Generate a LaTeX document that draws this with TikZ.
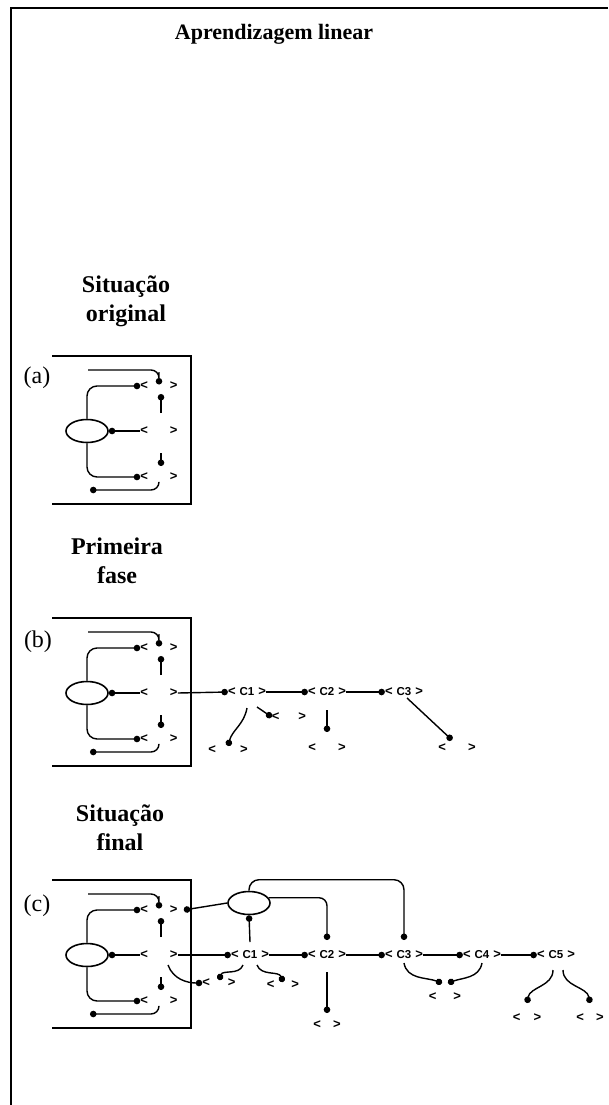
\documentclass[tikz,border=0pt]{standalone}
\usepackage{fontspec}
\setmainfont{Liberation Serif}
\newfontfamily\slotfont{Liberation Sans}
\usetikzlibrary{arrows.meta,shapes.geometric}

\newcommand\titlestyle{\fontsize{22}{29}\selectfont\bfseries}
\newcommand\headstyle{\fontsize{24}{29}\selectfont\bfseries}
\newcommand\tagstyle{\fontsize{24}{28}\selectfont}
\newcommand\slotstyle{\fontsize{11.5}{14}\selectfont\slotfont\bfseries}
\newcommand\lt{{\fontsize{13}{14}\selectfont<}}
\newcommand\gt{{\fontsize{13}{14}\selectfont>}}
\newcommand\slotbox[1]{\lt\hspace{#1pt}\gt}
\newcommand\chainbox[1]{\lt\hspace{4pt}C#1\hspace{4pt}\gt}

\tikzset{
  link/.style={line width=1.4pt},
  dot/.style={link, -{Circle[length=6.5pt]}},
  panel/.style={line width=1.6pt},
  organ/.style={draw, ellipse, line width=1.6pt, minimum width=42pt, minimum height=23pt, inner sep=0pt},
  slotnode/.style={inner sep=0pt, font=\slotstyle},
}

% one boxed panel: #1 = prefix of the names, #2 = y of the middle row
\newcommand\drawpanel[2]{
  \begin{scope}[shift={(0,#2)}]
    \draw[panel] (52,-75) -- (191,-75) -- (191,73) -- (52,73);
    \node[organ] (#1e) at (87,0) {};
    \node[slotnode] (#1r1) at (159,-45) {\slotbox{22}};
    \node[slotnode] (#1r2) at (159,0) {\slotbox{22}};
    \node[slotnode] (#1r3) at (159,46) {\slotbox{22}};
    \coordinate (#1in) at (88,-61);
    \coordinate (#1out) at (90,59);
    \draw[dot, rounded corners=8] (#1in) -| ([yshift=8]#1r1.center);
    \draw[dot, rounded corners=10] (#1e.north) |- (#1r1.west);
    \draw[dot] (#1r2.west) -- (#1e.east);
    \draw[dot, rounded corners=10] (#1e.south) |- (#1r3.west);
    \draw[dot] ([xshift=2,yshift=18]#1r2.center) -- ([xshift=2,yshift=-8]#1r1.center);
    \draw[dot] ([xshift=2,yshift=-22]#1r2.center) -- ([xshift=2,yshift=11]#1r3.center);
    \draw[dot, rounded corners=8] ([yshift=-6]#1r3.center) |- (#1out);
  \end{scope}
}

\begin{document}
\begin{tikzpicture}[x=1pt, y=-1pt]
  \useasboundingbox (0,0) rectangle (608,1105);
  \draw[line width=2.4pt] (11,1105) -- (11,8) -- (608,8);

  \node[font=\titlestyle] (title) at (274,34) {Aprendizagem linear};
  % anchor=base sits on the last line
  \node[font=\headstyle, align=center, anchor=base] (heada) at (126,321) {Situação\\original};
  \node[font=\headstyle, align=center, anchor=base] (headb) at (117,583) {Primeira\\fase};
  \node[font=\headstyle, align=center, anchor=base] (headc) at (120,850) {Situação\\final};
  \node[font=\tagstyle] (taga) at (37,378) {(a)};
  \node[font=\tagstyle] (tagb) at (38,642) {(b)};
  \node[font=\tagstyle] (tagc) at (37,906) {(c)};

  \drawpanel{a}{431}
  \drawpanel{b}{693}
  \drawpanel{c}{955}

  % first phase
  \node[slotnode] (bc1) at (247,692) {\chainbox{1}};
  \node[slotnode] (bc2) at (327,692) {\chainbox{2}};
  \node[slotnode] (bc3) at (404,692) {\chainbox{3}};
  \node[slotnode] (bu1) at (228,750) {\slotbox{24}};
  \node[slotnode] (bu2) at (289,717) {\slotbox{19}};
  \node[slotnode] (bu3) at (327,748) {\slotbox{22}};
  \node[slotnode] (bu4) at (457,748) {\slotbox{22}};
  \draw[dot] (br2.east) -- (bc1.west);
  \draw[dot] (bc1.east) -- (bc2.west);
  \draw[dot] (bc2.east) -- (bc3.west);
  \draw[dot] ([yshift=-16]bc1.center) to[out=-100,in=75] ([yshift=4]bu1.center);
  \draw[dot] ([xshift=10,yshift=-15]bc1.center) -- (bu2.west);
  \draw[dot] ([yshift=-18]bc2.center) -- ([yshift=16]bu3.center);
  \draw[dot] ([xshift=3,yshift=-6]bc3.center) -- ([xshift=-5,yshift=8]bu4.center);

  % final situation
  \node[organ] (ctop) at (249,903) {};
  \node[slotnode] (cc1) at (250,955) {\chainbox{1}};
  \node[slotnode] (cc2) at (327,955) {\chainbox{2}};
  \node[slotnode] (cc3) at (404,955) {\chainbox{3}};
  \node[slotnode] (cc4) at (482,955) {\chainbox{4}};
  \node[slotnode] (cc5) at (556,955) {\chainbox{5}};
  \node[slotnode] (cu1) at (219,983) {\slotbox{18}};
  \node[slotnode] (cu2) at (283,985) {\slotbox{17}};
  \node[slotnode] (cu3) at (327,1025) {\slotbox{12}};
  \node[slotnode] (cu4) at (445,997) {\slotbox{17}};
  \node[slotnode] (cu5) at (527,1018) {\slotbox{13}};
  \node[slotnode] (cu6) at (590,1018) {\slotbox{12}};
  \draw[dot] (ctop.west) -- ([xshift=6]cr1.east);
  \draw[dot] (cr2.east) -- (cc1.west);
  \draw[dot] (cc1.east) -- (cc2.west);
  \draw[dot] (cc2.east) -- (cc3.west);
  \draw[dot] (cc3.east) -- (cc4.west);
  \draw[dot] (cc4.east) -- (cc5.west);
  \draw[dot] ([yshift=13]cc1.center) -- (ctop.south);
  \draw[dot, rounded corners=8] (ctop.15) -| ([yshift=15]cc2.center);
  \draw[dot, rounded corners=10] (ctop.north) -- ++(0,-11) -| ([yshift=15]cc3.center);
  \draw[dot] ([xshift=9,yshift=-10]cr2.center) to[out=-70,in=180] (cu1.west);
  \draw[dot] ([xshift=-7,yshift=-10]cc1.center) to[out=-110,in=70] ([yshift=3]cu1.center);
  \draw[dot] ([xshift=7,yshift=-10]cc1.center) to[out=-70,in=110] ([yshift=3]cu2.center);
  \draw[dot] ([yshift=-17]cc2.center) -- ([yshift=12]cu3.center);
  \draw[dot] ([yshift=-8]cc3.center) to[out=-80,in=160] ([xshift=-3,yshift=14]cu4.center);
  \draw[dot] ([yshift=-8]cc4.center) to[out=-100,in=20] ([xshift=3,yshift=14]cu4.center);
  \draw[dot] ([xshift=-3,yshift=-15]cc5.center) to[out=-90,in=80] ([yshift=15]cu5.center);
  \draw[dot] ([xshift=7,yshift=-15]cc5.center) to[out=-90,in=100] ([yshift=15]cu6.center);
\end{tikzpicture}
\end{document}
